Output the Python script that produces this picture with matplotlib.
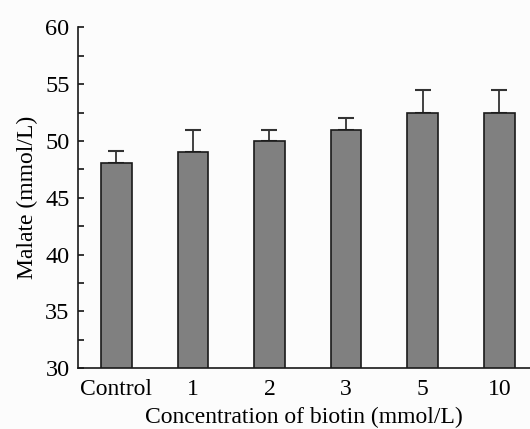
import matplotlib
matplotlib.use("Agg")
import matplotlib.pyplot as plt
from matplotlib.ticker import MultipleLocator

categories = ["Control", "1", "2", "3", "5", "10"]
values = [48.1, 49.0, 50.0, 51.0, 52.5, 52.5]
errors = [1.0, 2.0, 1.0, 1.0, 2.0, 2.0]

plt.rcParams['font.family'] = ['Liberation Serif', 'DejaVu Serif']

fig = plt.figure(figsize=(5.3, 4.29), dpi=100, facecolor='#fcfcfc')
ax = fig.add_axes([0.147, 0.142, 0.853, 0.794])
ax.set_facecolor('#fcfcfc')

x = list(range(len(categories)))
ax.bar(x, values, width=0.4, color='#808080', edgecolor='#1a1a1a', linewidth=1.2, zorder=2)
ax.errorbar(x, values, yerr=[[0]*len(errors), errors], fmt='none', ecolor='#333333',
            elinewidth=1.3, capsize=6, capthick=1.5, zorder=1)

ax.set_ylim(30, 60)
ax.set_xlim(-0.5, 5.4)
ax.yaxis.set_major_locator(MultipleLocator(5))
ax.yaxis.set_minor_locator(MultipleLocator(2.5))
ax.set_xticks(x)
ax.set_xticklabels(categories)

for s in ['top', 'right']:
    ax.spines[s].set_visible(False)
for s in ['left', 'bottom']:
    ax.spines[s].set_linewidth(1.2)
    ax.spines[s].set_color('#1a1a1a')

ax.tick_params(axis='y', which='major', direction='in', length=4, width=1.1, labelsize=17.5, pad=6)
ax.tick_params(axis='y', which='minor', direction='in', length=4, width=1.1)
ax.tick_params(axis='x', which='major', direction='in', length=2.5, width=1.1, labelsize=17, pad=8)

ax.set_ylabel('Malate (mmol/L)', fontsize=17, labelpad=5)
ax.set_xlabel('Concentration of biotin (mmol/L)', fontsize=17, labelpad=4.5)

fig.savefig('out.png', dpi=100, facecolor=fig.get_facecolor())
